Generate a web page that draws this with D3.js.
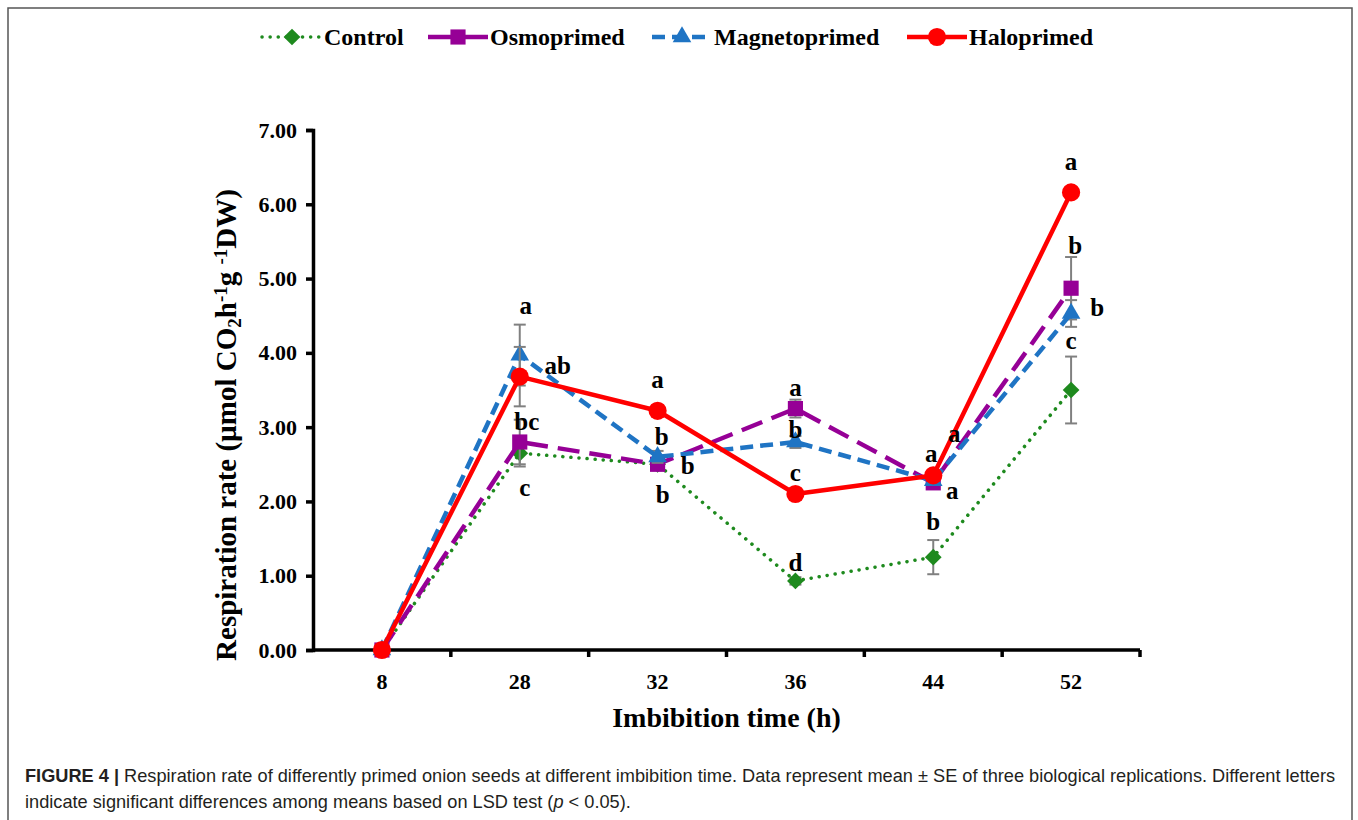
<!DOCTYPE html>
<html>
<head>
<meta charset="utf-8">
<script src="https://cdn.jsdelivr.net/npm/d3@7"></script>
<style>
    body { margin: 0; background: #fff; }
    svg { display: block; }
</style>
</head>
<body>
<script>
// Data: respiration rate per imbibition time
var times = ["8", "28", "32", "36", "44", "52"];
var seriesNames = ["Control", "Osmoprimed", "Magnetoprimed", "Haloprimed"];

var control = [0, 2.65, 2.50, 0.93, 1.25, 3.50];
var osmoprimed = [0, 2.80, 2.50, 3.25, 2.25, 4.87];
var magnetoprimed = [0, 3.97, 2.60, 2.80, 2.28, 4.53];
var haloprimed = [0, 3.68, 3.22, 2.10, 2.35, 6.16];

var controlErr = [0, 0.18, 0.05, 0.05, 0.23, 0.45];
var osmoprimedErr = [0, 0.30, 0.08, 0.12, 0.05, 0.42];
var magnetoprimedErr = [0, 0.41, 0.08, 0.08, 0.05, 0.18];
var haloprimedErr = [0, 0.40, 0.05, 0.05, 0.05, 0.05];

var controlLetters = ["", "c", "b", "d", "b", "c"];
var osmoprimedLetters = ["", "bc", "b", "a", "a", "b"];
var magnetoprimedLetters = ["", "a", "b", "b", "a", "b"];
var haloprimedLetters = ["", "ab", "a", "c", "a", "a"];

var yTicks = [0, 1, 2, 3, 4, 5, 6, 7];

// Styles and label offsets (pixels from each point), kept apart from data
var styles = [
    {color: "#1e8a1e", dash: "0.1,8", width: 3.5, cap: "round",
        marker: "diamond", size: 140},
    {color: "#960096", dash: "22,10", width: 4.5, cap: "butt",
        marker: d3.symbolSquare, size: 230},
    {color: "#1f74c4", dash: "13,7", width: 4.5, cap: "butt",
        marker: d3.symbolTriangle, size: 150},
    {color: "#ff0000", dash: null, width: 4.5, cap: "butt",
        marker: d3.symbolCircle, size: 260}
];
var letterOffsets = [
    [[0, 0], [5, 43], [5, 39], [0, -10], [0, -27], [0, -41]],
    [[0, 0], [7, -12], [30, 10], [0, -13], [19, 16], [4, -34]],
    [[0, 0], [6, -41], [4, -12], [0, -4], [-2, -19], [26, 3]],
    [[0, 0], [38, -3], [0, -23], [0, -13], [21, -33], [0, -22]]
];

var values = [control, osmoprimed, magnetoprimed, haloprimed];
var errors = [controlErr, osmoprimedErr, magnetoprimedErr, haloprimedErr];
var letters = [controlLetters, osmoprimedLetters, magnetoprimedLetters,
    haloprimedLetters];

var W = 1358, H = 820;
var margin = {top: 130, right: 218, bottom: 170, left: 313},
    width = W - margin.left - margin.right,
    height = H - margin.top - margin.bottom;

var serif = "'Liberation Serif', 'Times New Roman', serif";
var sans = "'Liberation Sans', Arial, sans-serif";

var root = d3.select("body").append("svg")
    .attr("width", W)
    .attr("height", H);

// figure frame
root.append("rect")
    .attr("x", 8).attr("y", 8)
    .attr("width", 1344).attr("height", 830)
    .attr("fill", "none")
    .attr("stroke", "#555")
    .attr("stroke-width", 1.5);

var svg = root.append("g")
    .attr("transform", "translate(" + margin.left + "," + margin.top + ")");

var xScale = d3.scaleBand().domain(times).range([0, width]);
var yScale = d3.scaleLinear().domain([0, 7]).range([height, 0]);

function cx(i) { return xScale(times[i]) + xScale.bandwidth() / 2; }

// marker shape: diamonds are rotated squares, the rest d3 symbols
function markerPath(st) {
    var type = st.marker === "diamond" ? d3.symbolSquare : st.marker;
    return d3.symbol().type(type).size(st.size)();
}
function markerRot(st) {
    return st.marker === "diamond" ? " rotate(45)" : "";
}

// y axis
var yAxis = d3.axisLeft(yScale)
    .tickValues(yTicks)
    .tickSize(7)
    .tickPadding(9)
    .tickFormat(d3.format(".2f"));
var gy = svg.append("g").call(yAxis);
gy.select(".domain").attr("stroke-width", 3.5);
gy.selectAll(".tick line").attr("stroke-width", 3.5);
gy.selectAll("text")
    .attr("font-family", serif)
    .attr("font-weight", "bold")
    .attr("font-size", "22px");

// x axis: ticks on the band edges, labels centred on the bands
var gx = svg.append("g")
    .attr("transform", "translate(0," + height + ")");
gx.append("line")
    .attr("x1", 0).attr("x2", width)
    .attr("stroke", "#000").attr("stroke-width", 3.5);
gx.selectAll(".edge")
    .data(times)
    .enter().append("line")
    .attr("class", "edge")
    .attr("x1", function(d) { return xScale(d) + xScale.step(); })
    .attr("x2", function(d) { return xScale(d) + xScale.step(); })
    .attr("y1", 0).attr("y2", 7)
    .attr("stroke", "#000").attr("stroke-width", 3.5);
gx.selectAll(".lab")
    .data(times)
    .enter().append("text")
    .attr("class", "lab")
    .attr("x", function(d, i) { return cx(i); })
    .attr("y", 39)
    .attr("text-anchor", "middle")
    .attr("font-family", serif)
    .attr("font-weight", "bold")
    .attr("font-size", "22px")
    .text(function(d) { return d; });

// axis titles
svg.append("text")
    .attr("x", width / 2)
    .attr("y", height + 77)
    .attr("text-anchor", "middle")
    .attr("font-family", serif)
    .attr("font-weight", "bold")
    .attr("font-size", "28px")
    .text("Imbibition time (h)");

var yt = svg.append("text")
    .attr("transform", "translate(-77," + (height / 2 + 35) + ") rotate(-90)")
    .attr("text-anchor", "middle")
    .attr("font-family", serif)
    .attr("font-weight", "bold")
    .attr("font-size", "29px");
yt.append("tspan").text("Respiration rate (\u00b5mol CO");
yt.append("tspan").attr("baseline-shift", "-25%")
    .attr("font-size", "19px").text("2");
yt.append("tspan").text("h");
yt.append("tspan").attr("baseline-shift", "45%")
    .attr("font-size", "19px").text("-1");
yt.append("tspan").text("g ");
yt.append("tspan").attr("baseline-shift", "45%")
    .attr("font-size", "19px").text("-1");
yt.append("tspan").text("DW)");

var line = d3.line()
    .x(function(d, i) { return cx(i); })
    .y(function(d) { return yScale(d); });

// series drawn in legend order, Haloprimed on top
values.forEach(function(vals, s) {
    var st = styles[s];
    var g = svg.append("g");

    // error bars (mean +/- SE)
    vals.forEach(function(v, i) {
        var e = errors[s][i];
        if (!e) return;
        var x = cx(i);
        g.append("line")
            .attr("x1", x).attr("x2", x)
            .attr("y1", yScale(v - e)).attr("y2", yScale(v + e))
            .attr("stroke", "#808080").attr("stroke-width", 2);
        [v - e, v + e].forEach(function(c) {
            g.append("line")
                .attr("x1", x - 6).attr("x2", x + 6)
                .attr("y1", yScale(c)).attr("y2", yScale(c))
                .attr("stroke", "#808080").attr("stroke-width", 2);
        });
    });

    g.append("path")
        .datum(vals)
        .attr("d", line)
        .attr("fill", "none")
        .attr("stroke", st.color)
        .attr("stroke-width", st.width)
        .attr("stroke-linecap", st.cap)
        .attr("stroke-linejoin", "round")
        .attr("stroke-dasharray", st.dash);

    g.selectAll(".pt")
        .data(vals)
        .enter().append("path")
        .attr("class", "pt")
        .attr("transform", function(d, i) {
            return "translate(" + cx(i) + "," + yScale(d) + ")" + markerRot(st);
        })
        .attr("d", markerPath(st))
        .attr("fill", st.color);
});

// significance letters
values.forEach(function(vals, s) {
    svg.append("g").selectAll("text")
        .data(vals)
        .enter().append("text")
        .attr("x", function(d, i) { return cx(i) + letterOffsets[s][i][0]; })
        .attr("y", function(d, i) { return yScale(d) + letterOffsets[s][i][1]; })
        .attr("text-anchor", "middle")
        .attr("font-family", serif)
        .attr("font-weight", "bold")
        .attr("font-size", "25px")
        .text(function(d, i) { return letters[s][i]; });
});

// legend
var legendX = [262, 428, 652, 907];
var legendDash = ["0.1,8", null, "13,7", null];
var legend = root.append("g");
seriesNames.forEach(function(name, s) {
    var st = styles[s];
    var x0 = legendX[s];
    legend.append("line")
        .attr("x1", x0).attr("x2", x0 + 60)
        .attr("y1", 37).attr("y2", 37)
        .attr("stroke", st.color)
        .attr("stroke-width", st.width)
        .attr("stroke-linecap", st.cap)
        .attr("stroke-dasharray", legendDash[s]);
    legend.append("path")
        .attr("transform", "translate(" + (x0 + 30) + ",37)" + markerRot(st))
        .attr("d", markerPath(st))
        .attr("fill", st.color);
    legend.append("text")
        .attr("x", x0 + 62)
        .attr("y", 45)
        .attr("font-family", serif)
        .attr("font-weight", "bold")
        .attr("font-size", "24px")
        .text(name);
});

// caption
var cap = root.append("g")
    .attr("font-family", sans)
    .attr("font-size", "18.2px")
    .attr("fill", "#231f20");
var c1 = cap.append("text").attr("x", 25).attr("y", 782);
c1.append("tspan").attr("font-weight", "bold").text("FIGURE 4 | ");
c1.append("tspan").text("Respiration rate of differently primed onion " +
    "seeds at different imbibition time. Data represent mean \u00b1 SE of " +
    "three biological replications. Different letters");
var c2 = cap.append("text").attr("x", 25).attr("y", 808);
c2.append("tspan").text("indicate significant differences among means " +
    "based on LSD test (");
c2.append("tspan").attr("font-style", "italic").text("p");
c2.append("tspan").text(" < 0.05).");
</script>
</body>
</html>
